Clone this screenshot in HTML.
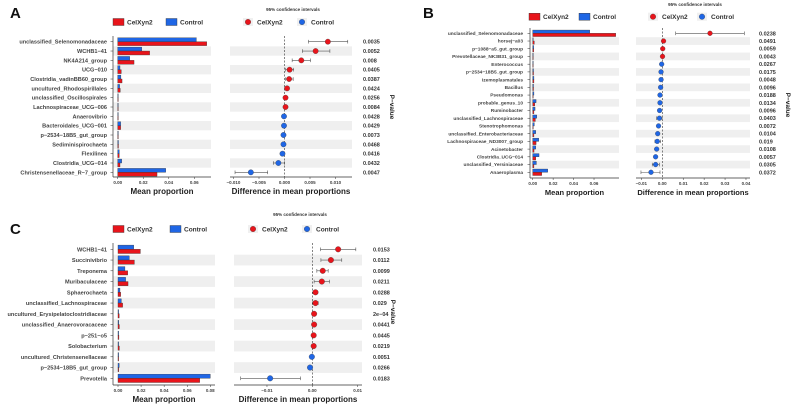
<!DOCTYPE html>
<html><head><meta charset="utf-8"><style>
html,body{margin:0;padding:0;background:#fff;}
svg{display:block;font-family:"Liberation Sans",Arial,sans-serif;}
</style></head><body>
<svg id="fig" width="793" height="406" viewBox="0 0 793 406" xmlns="http://www.w3.org/2000/svg"></svg>
<script>
// Panel A data
const aLabels=["unclassified_Selenomonadaceae","WCHB1−41","NK4A214_group","UCG−010","Clostridia_vadinBB60_group","uncultured_Rhodospirillales","unclassified_Oscillospirales","Lachnospiraceae_UCG−006","Anaerovibrio","Bacteroidales_UCG−001","p−2534−18B5_gut_group","Sediminispirochaeta","Flexilinea","Clostridia_UCG−014","Christensenellaceae_R−7_group"];
const aCtrl=[0.0616,0.0188,0.0094,0.0018,0.0025,0.0015,0.0004,0.0004,0.0003,0.0023,0.0005,0.0006,0.0012,0.0031,0.0376];
const aCel=[0.0697,0.025,0.0128,0.0028,0.0034,0.002,0.0004,0.0004,0.0003,0.0023,0.0005,0.0006,0.0012,0.0018,0.0308];
const aDiff=[0.0085,0.0061,0.0033,0.001,0.0009,0.0005,0.0002,0.0002,-0.0001,-0.0001,-0.0002,-0.0002,-0.0004,-0.0012,-0.0066];
const aLo=[0.0047,0.0035,0.0015,0.0002,0.0002,0.0001,0.0001,0.0001,-0.0002,-0.0002,-0.0003,-0.0003,-0.0006,-0.0022,-0.0097];
const aHi=[0.0124,0.0089,0.0051,0.0018,0.0017,0.0009,0.0003,0.0003,0,0,-0.0001,-0.0001,-0.0002,0,-0.0033];
const aP=["0.0035","0.0052","0.008","0.0405","0.0387","0.0424","0.0256","0.0084","0.0428","0.0429","0.0073","0.0468","0.0416","0.0432","0.0047"];
const aBarTicks=[0,0.02,0.04,0.06];
const aDotTicks=[-0.01,-0.005,0,0.005,0.01];
const aDotTickLabels=["−0.010","−0.005","0.000","0.005","0.010"];
// Panel B data
const bLabels=["unclassified_Selenomonadaceae","horsej−a03","p−1088−a5_gut_group","Prevotellaceae_NK3B31_group","Enterococcus","p−2534−18B5_gut_group","Izemoplasmatales","Bacillus","Pseudomonas","probable_genus_10","Ruminobacter","unclassified_Lachnospiraceae","Stenotrophomonas","unclassified_Enterobacteriaceae","Lachnospiraceae_ND3007_group","Acinetobacter","Clostridia_UCG−014","unclassified_Yersiniaceae","Anaeroplasma"];
const bCtrl=[0.0558,0.0004,0.001,0.0006,0.0005,0.0008,0.0012,0.0008,0.0012,0.0033,0.0023,0.004,0.0016,0.003,0.0059,0.003,0.0062,0.0036,0.0147];
const bCel=[0.0812,0.0016,0.001,0.0006,0.0005,0.0008,0.0012,0.0008,0.0005,0.002,0.0012,0.0026,0.0006,0.0012,0.0033,0.0013,0.003,0.0012,0.0088];
const bDiff=[0.0228,0.0006,0.0002,0.0001,-0.0003,-0.0006,-0.0006,-0.0008,-0.0011,-0.0011,-0.0013,-0.0014,-0.0018,-0.0022,-0.0024,-0.0027,-0.0032,-0.0032,-0.0054];
const bLo=[0.0064,0.0002,0,-0.0001,-0.0004,-0.0007,-0.0007,-0.0009,-0.0013,-0.0014,-0.0016,-0.0027,-0.0021,-0.0025,-0.0035,-0.003,-0.0036,-0.0048,-0.0102];
const bHi=[0.0392,0.001,0.0004,0.0003,-0.0002,-0.0005,-0.0005,-0.0007,-0.0009,-0.0008,-0.001,-0.0001,-0.0015,-0.0019,-0.0008,-0.0024,-0.0028,-0.0014,-0.0011];
const bP=["0.0238","0.0491","0.0059","0.0043","0.0267","0.0175","0.0048","0.0096","0.0188","0.0134","0.0096","0.0403","0.0072","0.0104","0.019","0.0108","0.0057","0.0305","0.0372"];
const bBarTicks=[0,0.02,0.04,0.06];
const bDotTicks=[-0.01,0,0.01,0.02,0.03,0.04];
const bDotTickLabels=["−0.01","0.00","0.01","0.02","0.03","0.04"];
// Panel C data
const cLabels=["WCHB1−41","Succinivibrio","Treponema","Muribaculaceae","Sphaerochaeta","unclassified_Lachnospiraceae","uncultured_Erysipelatoclostridiaceae","unclassified_Anaerovoracaceae","p−251−o5","Solobacterium","uncultured_Christensenellaceae","p−2534−18B5_gut_group","Prevotella"];
const cCtrl=[0.0136,0.0098,0.006,0.0066,0.0017,0.0029,0.0003,0.0006,0.0003,0.0005,0.0004,0.001,0.08];
const cCel=[0.0194,0.0142,0.0084,0.0087,0.0023,0.004,0.001,0.0012,0.0008,0.0012,0.0003,0.0006,0.0708];
const cDiff=[0.0057,0.0041,0.0023,0.0021,0.0007,0.0007,0.0004,0.0004,0.0003,0.0003,-0.0001,-0.0005,-0.0093];
const cLo=[0.0018,0.0019,0.001,0.0004,0.0002,0.0001,0.0002,0.0001,0.0001,0.0001,-0.0002,-0.0008,-0.0158];
const cHi=[0.0096,0.0065,0.0035,0.0038,0.0012,0.0013,0.0006,0.0007,0.0005,0.0005,0,-0.0002,-0.0026];
const cP=["0.0153","0.0112","0.0099","0.0211","0.0288","0.029","2e−04","0.0441","0.0445","0.0219","0.0051","0.0266","0.0183"];
const cBarTicks=[0,0.02,0.04,0.06,0.08];
const cDotTicks=[-0.01,0,0.01];
const cDotTickLabels=["−0.01","0.00","0.01"];

const NS="http://www.w3.org/2000/svg";
const svg=document.getElementById('fig');
function mk(tag,attrs,parent,txt){const e=document.createElementNS(NS,tag);for(const k in attrs)e.setAttribute(k,attrs[k]);if(txt!==undefined)e.textContent=txt;(parent||svg).appendChild(e);return e;}
const RED="#e8141b",BLUE="#1f66e5";

function panel(P){
  const g=mk('g',{});
  
  
  const n=P.labels.length;
  const rowY=i=>P.y0+i*P.dy;
  const bx=v=>P.bZero+v*P.bScale;
  const dx=v=>P.dZero+v*P.dScale;
  // letter
  const L=mk('text',{x:P.letterX,y:P.letterY,'font-size':15,'font-weight':'bold',fill:'#111'},g,P.id);
  
  const ci=mk('text',{x:P.ciX,y:P.ciY,'font-size':4.5,'font-weight':'bold',fill:'#333','text-anchor':'middle'},g,'95% confidence intervals');
  
  // legends
  const lg=mk('g',{},g);
  mk('rect',{x:P.lg[0],y:P.legY-3.5,width:11,height:7,fill:RED,stroke:'#333','stroke-width':0.4},lg);
  mk('text',{x:P.lg[0]+14,y:P.legY+2.5,'font-size':6.5,'font-weight':'bold',fill:'#333'},lg,'CelXyn2');
  mk('rect',{x:P.lg[1],y:P.legY-3.5,width:11,height:7,fill:BLUE,stroke:'#333','stroke-width':0.4},lg);
  mk('text',{x:P.lg[1]+14,y:P.legY+2.5,'font-size':6.5,'font-weight':'bold',fill:'#333'},lg,'Control');
  const dl=mk('g',{},g);
  mk('rect',{x:P.lg[2]-5,y:P.legY-4,width:10,height:8,fill:'#f0f0f0'},dl);
  mk('circle',{cx:P.lg[2],cy:P.legY,r:2.8,fill:RED,stroke:'#333','stroke-width':0.3},dl);
  mk('text',{x:P.lg[2]+9,y:P.legY+2.5,'font-size':6.5,'font-weight':'bold',fill:'#333'},dl,'CelXyn2');
  mk('rect',{x:P.lg[3]-5,y:P.legY-4,width:10,height:8,fill:'#f0f0f0'},dl);
  mk('circle',{cx:P.lg[3],cy:P.legY,r:2.8,fill:BLUE,stroke:'#333','stroke-width':0.3},dl);
  mk('text',{x:P.lg[3]+9,y:P.legY+2.5,'font-size':6.5,'font-weight':'bold',fill:'#333'},dl,'Control');
  // stripes
  for(let i=1;i<n;i+=2){
    const y=rowY(i)-P.dy/2;
    const s1=mk('rect',{x:P.bL,y:y,width:P.bR-P.bL,height:P.dy,fill:'#efefef'},g);
    
    const s2=mk('rect',{x:P.dL,y:y,width:P.dR-P.dL,height:P.dy,fill:'#efefef'},g);
    
  }
  const bh=Math.min(4.2,P.dy*0.42);
  for(let i=0;i<n;i++){
    const y=rowY(i);
    const t=mk('text',{x:P.labX,y:y+P.fs*0.35,'font-size':P.fs,'font-weight':'bold',fill:'#444','text-anchor':'end'},g,P.labels[i]);
    
    mk('line',{x1:P.bL-2.5,x2:P.bL,y1:y,y2:y,stroke:'#333','stroke-width':0.5},g);
    const b1=mk('rect',{x:bx(0),y:y-bh,width:Math.max(0.6,bx(P.ctrl[i])-bx(0)),height:bh,fill:BLUE,stroke:'#333','stroke-width':0.35},g);
    
    const b2=mk('rect',{x:bx(0),y:y,width:Math.max(0.6,bx(P.cel[i])-bx(0)),height:bh,fill:RED,stroke:'#333','stroke-width':0.35},g);
    
    const pv=mk('text',{x:P.pX,y:y+2,'font-size':5.5,'font-weight':'bold',fill:'#333'},g,P.p[i]);
    
  }
  // bar axes
  mk('line',{x1:P.bL,x2:P.bL,y1:P.top,y2:P.bot,stroke:'#333','stroke-width':0.7},g);
  mk('line',{x1:P.bL,x2:P.bR,y1:P.bot,y2:P.bot,stroke:'#333','stroke-width':0.7},g);
  P.bTicks.forEach(v=>{
    mk('line',{x1:bx(v),x2:bx(v),y1:P.bot,y2:P.bot+2,stroke:'#333','stroke-width':0.5},g);
    const tl=mk('text',{x:bx(v),y:P.bot+7,'font-size':4.5,'font-weight':'bold',fill:'#444','text-anchor':'middle'},g,v.toFixed(2));
    
  });
  const xt=mk('text',{x:(P.bL+P.bR)/2,y:P.bot+17,'font-size':P.tfs,'font-weight':'bold',fill:'#222','text-anchor':'middle'},g,'Mean proportion');
  
  // dot axes
  mk('line',{x1:P.dL,x2:P.dR,y1:P.bot,y2:P.bot,stroke:'#333','stroke-width':0.7},g);
  mk('line',{x1:dx(0),x2:dx(0),y1:P.top,y2:P.bot,stroke:'#333','stroke-width':0.6,'stroke-dasharray':'2,1.5'},g);
  P.dTicks.forEach((v,k)=>{
    mk('line',{x1:dx(v),x2:dx(v),y1:P.bot,y2:P.bot+2,stroke:'#333','stroke-width':0.5},g);
    const tl=mk('text',{x:dx(v),y:P.bot+7,'font-size':4.5,'font-weight':'bold',fill:'#444','text-anchor':'middle'},g,P.dTickLabels[k]);
    
  });
  const dt=mk('text',{x:(P.dL+P.dR)/2,y:P.bot+17,'font-size':P.tfs,'font-weight':'bold',fill:'#222','text-anchor':'middle'},g,'Difference in mean proportions');
  
  for(let i=0;i<n;i++){
    const y=rowY(i);
    const eb=mk('g',{},g);
    mk('line',{x1:dx(P.lo[i]),x2:dx(P.hi[i]),y1:y,y2:y,stroke:'#555','stroke-width':0.6},eb);
    mk('line',{x1:dx(P.lo[i]),x2:dx(P.lo[i]),y1:y-1.8,y2:y+1.8,stroke:'#555','stroke-width':0.6},eb);
    mk('line',{x1:dx(P.hi[i]),x2:dx(P.hi[i]),y1:y-1.8,y2:y+1.8,stroke:'#555','stroke-width':0.6},eb);
    const c=mk('circle',{cx:dx(P.diff[i]),cy:y,r:P.r,fill:P.diff[i]>0?RED:BLUE,stroke:'#333','stroke-width':0.3},g);
    
  }
  const pt=mk('text',{x:P.ptX,y:P.ptY,'font-size':6.5,'font-weight':'bold',fill:'#222','text-anchor':'middle',transform:`rotate(90 ${P.ptX} ${P.ptY})`},g,'P−value');
  
}

panel({id:'A',labels:aLabels,ctrl:aCtrl,cel:aCel,diff:aDiff,lo:aLo,hi:aHi,p:aP,bTicks:aBarTicks,dTicks:aDotTicks,dTickLabels:aDotTickLabels,
 y0:41.7,dy:9.33,top:36,bot:177,bL:113,bR:211,bZero:117.7,bScale:1277,dL:230,dR:352,dZero:284.5,dScale:5100,pX:363,labX:107,fs:5.6,tfs:8,r:2.7,
 letterX:10,letterY:18,ciX:293,ciY:11,legY:22,lg:[113,166,248,302],ptX:390,ptY:107});
panel({id:'B',labels:bLabels,ctrl:bCtrl,cel:bCel,diff:bDiff,lo:bLo,hi:bHi,p:bP,bTicks:bBarTicks,dTicks:bDotTicks,dTickLabels:bDotTickLabels,
 y0:33.3,dy:7.72,top:28,bot:178,bL:530,bR:619,bZero:532.7,bScale:1022,dL:636,dR:750,dZero:662.3,dScale:2092,pX:759,labX:523,fs:4.8,tfs:7.5,r:2.4,
 letterX:423,letterY:18,ciX:695,ciY:6,legY:16.7,lg:[529,579,653,702],ptX:786,ptY:105});
panel({id:'C',labels:cLabels,ctrl:cCtrl,cel:cCel,diff:cDiff,lo:cLo,hi:cHi,p:cP,bTicks:cBarTicks,dTicks:cDotTicks,dTickLabels:cDotTickLabels,
 y0:249.3,dy:10.75,top:243,bot:385,bL:113,bR:215,bZero:118,bScale:1154,dL:234,dR:362,dZero:312.3,dScale:4533,pX:373,labX:107,fs:5.6,tfs:8,r:2.8,
 letterX:10,letterY:234,ciX:300,ciY:216,legY:229,lg:[113,170,253,307],ptX:391,ptY:312});
</script>
</body></html>
